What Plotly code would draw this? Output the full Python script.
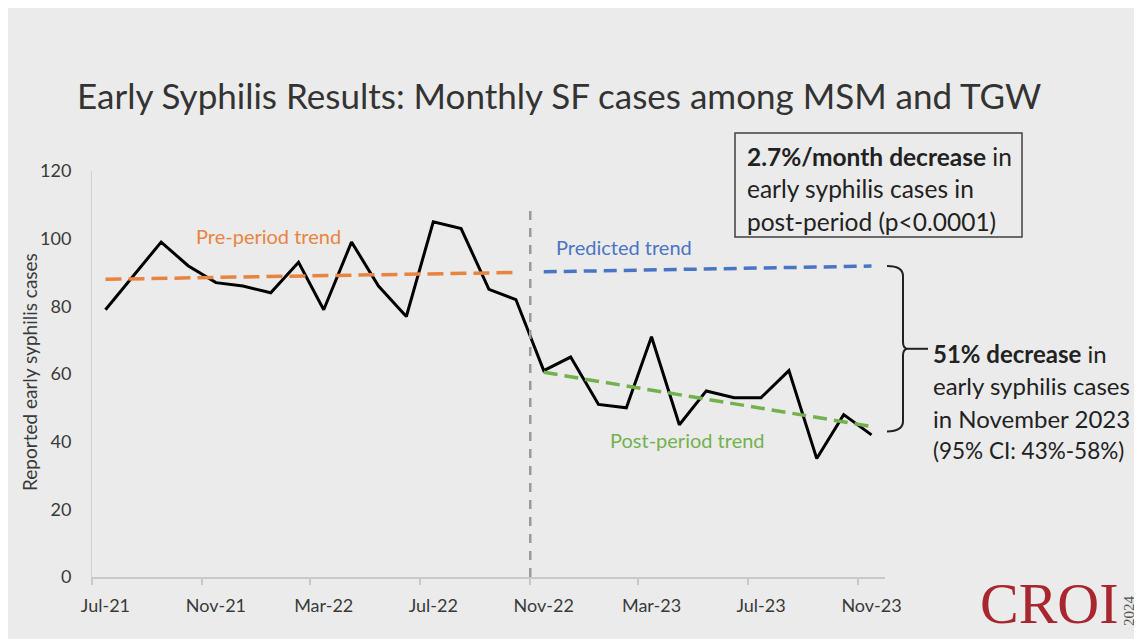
import plotly.graph_objects as go
import pandas as pd

# Monthly reported early syphilis cases, Jul-21 .. Nov-23
months = pd.date_range("2021-07-01", "2023-11-01", freq="MS")
cases = [79, 89, 99, 92, 87, 86, 84, 93, 79, 99, 86, 77, 105, 103, 85, 82,
         61, 65, 51, 50, 71, 45, 55, 53, 53, 61, 35, 48, 42]

# trend lines (start / end values)
pre_trend = [88, 90]        # Jul-21 .. Oct-22
pred_trend = [90.2, 91.9]   # Nov-22 .. Nov-23
post_trend = [60.5, 44.5]   # Nov-22 .. Nov-23

tick_labels = ["Jul-21", "Nov-21", "Mar-22", "Jul-22", "Nov-22", "Mar-23", "Jul-23", "Nov-23"]
y_ticks = [0, 20, 40, 60, 80, 100, 120]

# points sit mid-month, tick marks at month starts
xpts = months + pd.Timedelta(days=15)
label_pos = [xpts[i] for i in range(0, len(months), 4)]
tick_marks = [months[i] for i in range(0, len(months), 4)]
split = 16  # first post-period month (Nov-22)

FONT = "Lato"
TXT = "#3a3a3a"
BG = "#ebebeb"
ORANGE = "#e8843f"
BLUE = "#4a75c4"
GREEN = "#73b14e"

OFF = 8  # page margin of the browser
W, H = 1142 - OFF, 639 - OFF
# plot area in figure pixels
PL, PR, PT, PB = 84, 877, 163, 569
def px(p):  # screen x -> paper
    return (p - OFF - PL) / (PR - PL)
def py(p):  # screen y -> paper
    return (PB - (p - OFF)) / (PB - PT)

fig = go.Figure()

fig.add_trace(go.Scatter(x=xpts, y=cases, mode="lines",
                         line=dict(color="black", width=3), showlegend=False))
fig.add_trace(go.Scatter(x=[xpts[0], xpts[split - 1]], y=pre_trend, mode="lines",
                         line=dict(color=ORANGE, width=3.5, dash="16px,7px"), showlegend=False))
fig.add_trace(go.Scatter(x=[xpts[split], xpts[-1]], y=pred_trend, mode="lines",
                         line=dict(color=BLUE, width=3.5, dash="13px,7px"), showlegend=False))
fig.add_trace(go.Scatter(x=[xpts[split], xpts[-1]], y=post_trend, mode="lines",
                         line=dict(color=GREEN, width=3.5, dash="14px,7px"), showlegend=False))

shapes = [
    # intervention line
    dict(type="line", xref="x", yref="y", x0=months[split], x1=months[split], y0=0, y1=109,
         line=dict(color="#9a9a9a", width=2.5, dash="9px,8px")),
    # stats box
    dict(type="rect", xref="paper", yref="paper", x0=px(735), x1=px(1022), y0=py(237), y1=py(133),
         line=dict(color="#404040", width=1.5)),
]

# curly brace between predicted and observed
top, bot = pred_trend[-1], 43
mid = (top + bot) / 2
bx0, bx1, btip, bend = px(887), px(903), px(908), px(928)
brace = (f"M {bx0},{top} Q {bx1},{top} {bx1},{top - 3} L {bx1},{mid + 2} "
         f"Q {bx1},{mid} {btip},{mid} Q {bx1},{mid} {bx1},{mid - 2} "
         f"L {bx1},{bot + 3} Q {bx1},{bot} {bx0},{bot}")
shapes.append(dict(type="path", xref="paper", yref="y", path=brace,
                   line=dict(color="#222", width=2)))
shapes.append(dict(type="line", xref="paper", yref="y", x0=btip, x1=bend, y0=mid, y1=mid,
                   line=dict(color="#222", width=2)))

annotations = [
    dict(text="Pre-period trend", x=px(268), y=py(236), font=dict(size=20, color=ORANGE)),
    dict(text="Predicted trend", x=px(624), y=py(247), font=dict(size=20, color=BLUE)),
    dict(text="Post-period trend", x=px(687), y=py(440), font=dict(size=20, color=GREEN)),
    dict(text="Reported early syphilis cases", x=px(29), y=py(372), textangle=-90,
         font=dict(size=19, color=TXT)),
]
box_lines = ["<b>2.7%/month decrease</b> in", "early syphilis cases in", "post-period (p<0.0001)"]
for i, t in enumerate(box_lines):
    annotations.append(dict(text=t, x=px(745), y=py(156 + 32.5 * i), xanchor="left",
                            font=dict(size=24.5, color="#222")))
side_lines = ["<b>51% decrease</b> in", "early syphilis cases", "in November 2023", "(95% CI: 43%-58%)"]
for i, t in enumerate(side_lines):
    annotations.append(dict(text=t, x=px(931), y=py(353 + 32.5 * i), xanchor="left",
                            font=dict(size=24 if i < 3 else 22.5, color="#222")))
annotations.append(dict(text="CROI", x=px(1121), y=py(638), xanchor="right", yanchor="bottom",
                        font=dict(family="Liberation Serif", size=58, color="#a8262e")))
annotations.append(dict(text="2024", x=px(1129), y=py(611), textangle=-90,
                        font=dict(family="Liberation Serif", size=15, color="#555")))
for a in annotations:
    a.setdefault("xref", "paper")
    a.setdefault("yref", "paper")
    a.setdefault("showarrow", False)
    a.setdefault("xanchor", "center")
    a.setdefault("yanchor", "middle")

fig.update_layout(
    width=W, height=H,
    margin=dict(l=PL, r=W - PR, t=PT, b=H - PB),
    paper_bgcolor=BG, plot_bgcolor=BG,
    font=dict(family=FONT, color=TXT),
    title=dict(text="Early Syphilis Results: Monthly SF cases among MSM and TGW",
               x=(77 - OFF) / W, xanchor="left", y=1 - (97 - OFF) / H, yanchor="middle",
               font=dict(size=35, color="#333")),
    xaxis=dict(range=[months[0], months[-1] + pd.DateOffset(months=1)], type="date",
               tickvals=label_pos, ticktext=tick_labels, ticks="",
               tickfont=dict(size=18, color=TXT), ticklabelstandoff=12,
               showline=True, linecolor="#c9c9c9", linewidth=1.5,
               showgrid=False, zeroline=False,
               minor=dict(tickvals=tick_marks, ticks="outside", ticklen=6,
                          tickcolor="#c9c9c9", tickwidth=1.5, showgrid=False)),
    yaxis=dict(range=[0, 120], tickvals=y_ticks, ticks="outside", ticklen=16,
               tickcolor="rgba(0,0,0,0)", tickfont=dict(size=18, color=TXT),
               showline=True, linecolor="#d0d0d0", linewidth=1,
               showgrid=False, zeroline=False),
    shapes=shapes,
    annotations=annotations,
)

fig.write_html("out.html")
